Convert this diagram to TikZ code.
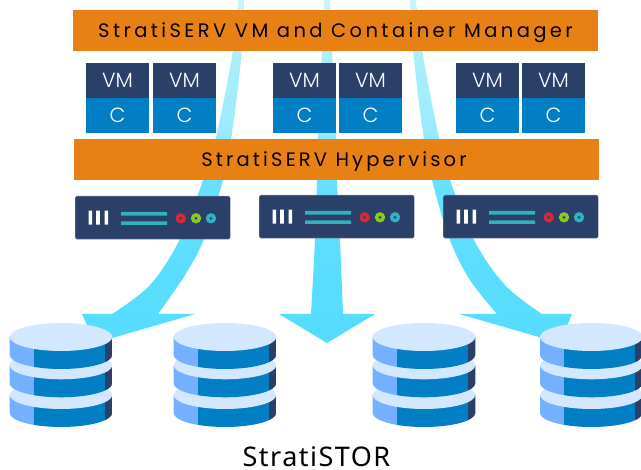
\documentclass[tikz,border=0pt]{standalone}
\usepackage{fontspec}
\setmainfont{Poppins}
\newfontfamily\vmfont{Poppins Light}
\newfontfamily\labelfont{Noto Sans}
\definecolor{barorange}{HTML}{E88113}
\definecolor{navy}{HTML}{2A4069}
\definecolor{midblue}{HTML}{027FC4}
\definecolor{lightblue}{HTML}{74B0FF}
\definecolor{lid}{HTML}{D3E8FF}
\definecolor{tealline}{HTML}{2EB3BF}
\definecolor{ledred}{HTML}{D9283A}
\definecolor{ledgreen}{HTML}{8CC81F}
\definecolor{ledteal}{HTML}{2EB3C4}
\definecolor{fadeA}{HTML}{55DCFF}
\definecolor{fadeB}{HTML}{5CDEFF}
\definecolor{fadeC}{HTML}{68E1FF}
\definecolor{fadeD}{HTML}{9AEBFF}
\definecolor{fadeE}{HTML}{A8EEFF}
\definecolor{fadeF}{HTML}{CCF4FF}
\pgfdeclareverticalshading{arrowfade}{100bp}{color(0bp)=(fadeA); color(25bp)=(fadeA); color(40bp)=(fadeB); color(49bp)=(fadeC); color(56bp)=(fadeD); color(66bp)=(fadeE); color(75bp)=(fadeF); color(100bp)=(fadeF)}
\tikzset{
  x=1pt,y=-1pt,
  flowarrow/.style={shading=arrowfade},
  barbox/.style={fill=barorange,minimum width=525pt,minimum height=41pt,inner sep=0pt,text=black,
    text height=14pt,text depth=0pt,font=\fontsize{19.5}{22}\selectfont\addfontfeatures{LetterSpace=17.5}},
  hyperbox/.style={barbox,font=\fontsize{19.5}{22}\selectfont\addfontfeatures{LetterSpace=16.2}},
  vmbox/.style={fill=navy,minimum width=63pt,minimum height=35pt,inner sep=0pt,text=white,font=\vmfont\fontsize{20.5}{22}\selectfont},
  cbox/.style={fill=midblue,minimum width=63pt,minimum height=35pt,inner sep=0pt,text=white,font=\vmfont\fontsize{20.5}{22}\selectfont},
  serverbox/.style={fill=navy,draw=navy!60!white,line width=.4pt,rounded corners=1.5pt,minimum width=155pt,minimum height=43pt,inner sep=0pt,anchor=north west},
}
\newcommand{\vmpair}[3]{%
  \node[vmbox] (vm#3) at (#1+31.5,80.5) {VM};
  \node[cbox] (c#3) at (#1+31.5,115.5) {C};
}
\newcommand{\dblayer}[2]{%
  \begin{scope}
    \clip (#1-51.3,#2) -- (#1-51.3,#2+18) arc[start angle=180,end angle=360,x radius=51.3pt,y radius=14pt] -- (#1+51.3,#2) -- cycle;
    \fill[lightblue] (#1-52,#2-1) rectangle (#1-27,#2+33);
    \fill[midblue] (#1-27,#2-1) rectangle (#1+44,#2+33);
    \fill[navy] (#1+44,#2-1) rectangle (#1+52,#2+33);
  \end{scope}
  \fill[lid] (#1,#2) ellipse [x radius=51.3pt,y radius=14pt];
}
\newcommand{\dbstack}[1]{\dblayer{#1}{395}\dblayer{#1}{365.3}\dblayer{#1}{337}}
\newcommand{\server}[3]{%
  \node[serverbox] (#3) at (#1,#2) {};
  \begin{scope}[shift={(#1,#2)}]
    \fill[white] (13.5,14.7) rectangle (17.1,28.7) (21.2,14.7) rectangle (24.8,28.7) (29.5,14.7) rectangle (33.1,28.7);
    \fill[tealline] (46,16) rectangle (92,19.6) (46,25.3) rectangle (92,28.9);
    \fill[ledred] (105.7,22.3) circle (5.2pt);
    \fill[ledgreen] (121,22.3) circle (5.2pt);
    \fill[ledteal] (136,22.3) circle (5.2pt);
    \fill[navy] (105.7,22.3) circle (1.5pt) (121,22.3) circle (1.5pt) (136,22.3) circle (1.5pt);
  \end{scope}
}
\begin{document}
\begin{tikzpicture}
\useasboundingbox (0,0) rectangle (641,470);
\fill[white] (0,0) rectangle (641,470);
% flow arrows
\shade[flowarrow] (238,0) -- plot[smooth,tension=.6] coordinates {(238,0) (233,50) (217,133) (203,180) (180,239) (150,285) (112,314)} -- (82,314) -- (95,343) -- (195,314) -- (158,314) -- plot[smooth,tension=.6] coordinates {(158,314) (185,275) (204,239) (223,180) (232,133) (242,50) (244,0)} -- cycle;
\shade[flowarrow] (324,0) -- plot[smooth,tension=.6] coordinates {(324,0) (322,50) (318,133) (317,180) (315,240) (311,314)} -- (279,314) -- (327,343) -- (375,314) -- (343,314) -- plot[smooth,tension=.6] coordinates {(343,314) (340,240) (337,180) (336,133) (332,50) (330,0)} -- cycle;
\shade[flowarrow] (410,0) -- plot[smooth,tension=.6] coordinates {(410,0) (413,50) (423,133) (432,180) (450,240) (470,280) (497,314)} -- (459,314) -- (560,343) -- (572,314) -- (542,314) -- plot[smooth,tension=.6] coordinates {(542,314) (505,285) (474,240) (450,180) (438,133) (422,50) (416,0)} -- cycle;
% bars
\node[barbox] (manager) at (335.5,30.5) {StratiSERV VM and Container Manager};
\node[hyperbox] (hypervisor) at (336.5,159.5) {StratiSERV Hypervisor\rule{5pt}{0pt}};
% VM / container boxes
\vmpair{86}{}{a}\vmpair{153}{}{b}\vmpair{273}{}{c}\vmpair{339}{}{d}\vmpair{456}{}{e}\vmpair{522}{}{f}
% servers
\server{75}{196}{srvA}\server{259}{195}{srvB}\server{443}{195}{srvC}
% storage
\dbstack{61}\dbstack{225}\dbstack{424}\dbstack{591.3}
\node[font=\labelfont\fontsize{27}{30}\selectfont\addfontfeatures{LetterSpace=5.5},text=black,inner sep=0pt,anchor=base] (stor) at (316.5,466.5) {StratiSTOR};
\end{tikzpicture}
\end{document}
